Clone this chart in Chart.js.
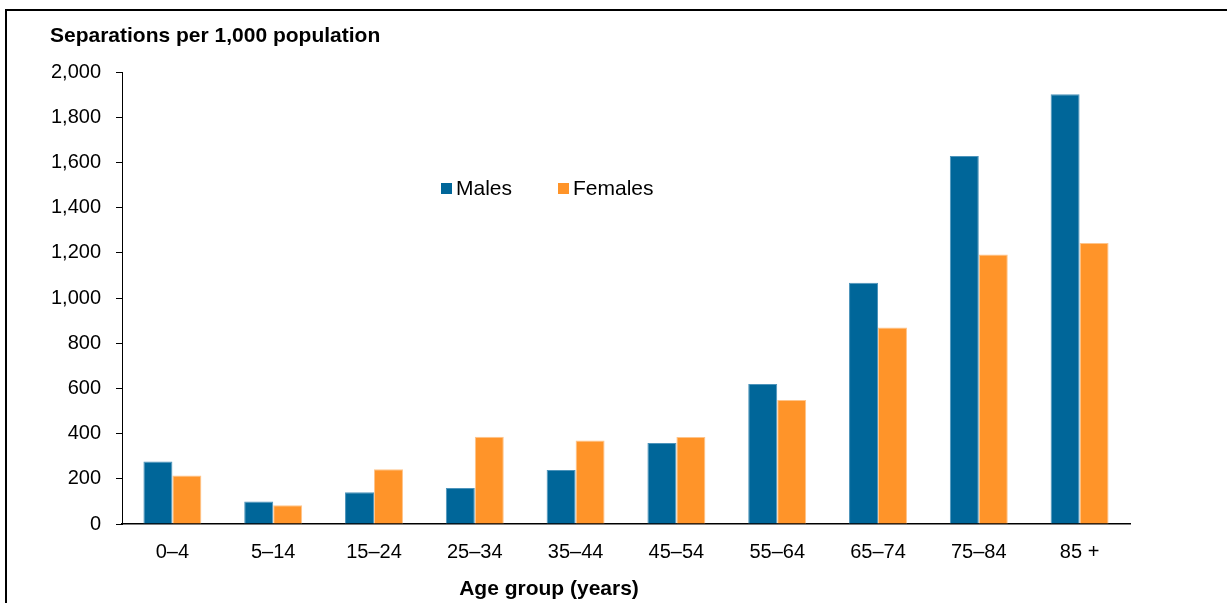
<!DOCTYPE html>
<html>
<head>
<meta charset="utf-8">
<script src="https://cdn.jsdelivr.net/npm/chart.js@4.4.1/dist/chart.umd.min.js"></script>
<style>
  html, body { margin: 0; padding: 0; background: #fff; }
  #frame { position: absolute; left: 5px; top: 9px; width: 1230px; height: 600px;
           border-left: 2px solid #000; border-top: 2px solid #000; }
  #wrap { position: absolute; left: 0; top: 0; width: 1227px; height: 603px; }
</style>
</head>
<body>
<div id="frame"></div>
<div id="wrap"><canvas id="sepChart"></canvas></div>
<script>
// Hospital separations per 1,000 population by age group and sex
const ageGroups = ['0–4', '5–14', '15–24', '25–34', '35–44', '45–54', '55–64', '65–74', '75–84', '85 +'];
const males   = [276, 100, 141, 159, 239, 358, 619, 1068, 1628, 1902];
const females = [215,  83, 242, 386, 370, 385, 549,  870, 1193, 1243];
const yMin = 0, yMax = 2000, yStep = 200;

const FONT = "'Liberation Sans', Arial, sans-serif";

// draws the axis titles and the small in-plot legend
const annotations = {
    id: 'annotations',
    afterDraw(chart) {
        const c = chart.ctx;
        const area = chart.chartArea;
        c.save();
        c.fillStyle = '#000';
        c.textBaseline = 'middle';

        c.font = "bold 21px " + FONT;
        c.textAlign = 'left';
        c.fillText('Separations per 1,000 population', 50, 36);
        c.textAlign = 'center';
        c.fillText('Age group (years)', 549, 589);

        // legend
        c.font = "21px " + FONT;
        c.textAlign = 'left';
        const legendX = [area.left + 319, area.left + 436];
        chart.data.datasets.forEach((ds, i) => {
            c.fillStyle = ds.backgroundColor;
            c.fillRect(legendX[i], 183, 11, 11);
            c.fillStyle = '#000';
            c.fillText(ds.label, legendX[i] + 15, 189);
        });
        c.restore();
    }
};

document.addEventListener("DOMContentLoaded", function () {
    const ctx = document.getElementById('sepChart');

    const data = {
        labels: ageGroups,
        datasets: [{
            label: 'Males',
            data: males,
            backgroundColor: '#006699',
            borderColor: '#4d94bb',
            borderWidth: 1,
            barPercentage: 1,
            categoryPercentage: 0.575
        }, {
            label: 'Females',
            data: females,
            backgroundColor: '#FF9429',
            borderColor: '#ffc48a',
            borderWidth: 1,
            barPercentage: 1,
            categoryPercentage: 0.575
        }]
    };

    const options = {
        responsive: true,
        maintainAspectRatio: false,
        animation: false,
        locale: 'en-US',
        layout: { padding: { top: 72, right: 97, bottom: 0, left: 0 } },
        scales: {
            x: {
                afterFit: s => { s.height = 79; },
                grid: { display: false },
                border: { display: true, color: '#000', width: 1.5 },
                ticks: { color: '#000', padding: 8, font: { family: FONT, size: 20 } }
            },
            y: {
                min: yMin,
                max: yMax,
                afterFit: s => { s.width = 122; },
                grid: { drawOnChartArea: false, drawTicks: true, tickLength: 6, color: '#000' },
                border: { display: true, color: '#000', width: 1 },
                ticks: { stepSize: yStep, color: '#000', padding: 15, font: { family: FONT, size: 20 } }
            }
        },
        plugins: {
            legend: { display: false },
            tooltip: { enabled: false }
        }
    };

    new Chart(ctx, { type: 'bar', data, options, plugins: [annotations] });
});
</script>
</body>
</html>
